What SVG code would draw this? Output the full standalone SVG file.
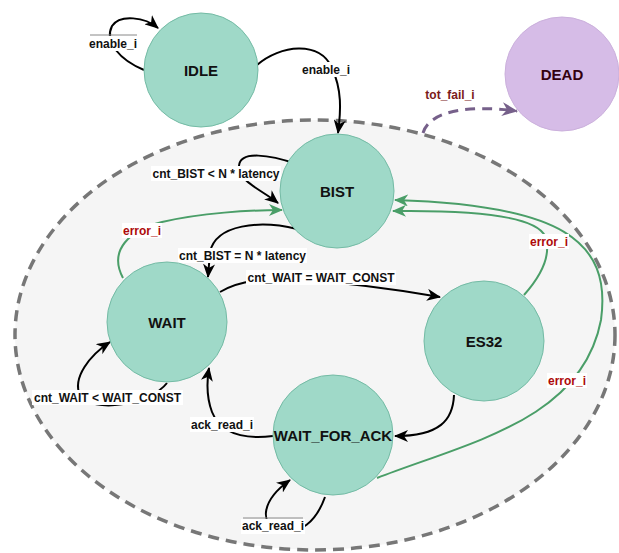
<svg xmlns="http://www.w3.org/2000/svg" width="619" height="553" viewBox="0 0 619 553">
<style>
.node{fill:#9fd9c8;stroke:#74bba5;stroke-width:1}
.dead{fill:#d6bce7;stroke:#cbb0dc;stroke-width:1}
.nl{font-family:"Liberation Sans",Arial,sans-serif;font-weight:bold;font-size:15px;text-anchor:middle;fill:#111}
.el{font-family:"Liberation Sans",Arial,sans-serif;font-weight:bold;font-size:12px;text-anchor:middle;fill:#111}
.er{fill:#ad0a0a}
.tf{fill:#7a1a1a}
.bg{fill:#ffffff}
.k{fill:none;stroke:#000;stroke-width:2}
.g{fill:none;stroke:#4a9e68;stroke-width:2}
.ov{stroke:#888;stroke-width:1}
</style>
<defs>
<marker id="ab" markerUnits="userSpaceOnUse" markerWidth="14" markerHeight="12" viewBox="0 0 14 12" refX="13" refY="6" orient="auto">
<path d="M0,0 L14,6 L0,12 L4,6 z" fill="#000"/>
</marker>
<marker id="ag" markerUnits="userSpaceOnUse" markerWidth="14" markerHeight="12" viewBox="0 0 14 12" refX="13" refY="6" orient="auto">
<path d="M0,0 L14,6 L0,12 L4,6 z" fill="#4a9e68"/>
</marker>
<marker id="ap" markerUnits="userSpaceOnUse" markerWidth="16" markerHeight="14" viewBox="0 0 16 14" refX="15" refY="7" orient="auto">
<path d="M0,0 L16,7 L0,14 L5,7 z" fill="#76608a"/>
</marker>
</defs>
<rect width="619" height="553" fill="#ffffff"/>
<g id="region">
<ellipse cx="315" cy="335" rx="300" ry="215" fill="#f5f5f5" stroke="#777777" stroke-width="3.5" stroke-dasharray="11 7"/>
</g>
<g id="connectors">
<path class="k" d="M144 70 C120 60 104 42 112 26 C120 14 145 17 158 28" marker-end="url(#ab)"/>
<path class="k" d="M257 65 C280 45 320 40 332 68 C342 90 341 110 338 133" marker-end="url(#ab)"/>
<path class="k" d="M297 164 C270 155 240 150 239 166 C239 182 262 190 278 203" marker-end="url(#ab)"/>
<path class="k" d="M297 229 C260 220 216 224 210 252 L208 277" marker-end="url(#ab)"/>
<path class="k" d="M220 292 C240 280 265 278 300 280 C350 283 400 290 440 297" marker-end="url(#ab)"/>
<path class="k" d="M167 383 C150 405 92 414 80 395 C72 378 90 355 110 342" marker-end="url(#ab)"/>
<path class="k" d="M273 436 C240 440 220 432 212 412 C206 396 207 380 209 368" marker-end="url(#ab)"/>
<path class="k" d="M325 497 C316 522 300 535 280 530 C258 524 262 500 290 480" marker-end="url(#ab)"/>
<path class="k" d="M454 395 C453 420 440 436 395 436" marker-end="url(#ab)"/>
<path class="g" d="M123 278 C108 250 130 230 162 222 C200 213 250 210 282 210" marker-end="url(#ag)"/>
<path class="g" d="M524 295 C540 277 552 255 545 236 C535 215 470 210 393 211" marker-end="url(#ag)"/>
<path class="g" d="M377 478 C470 442 582 420 601 320 C612 240 560 205 395 200" marker-end="url(#ag)"/>
<path d="M423 133 C430 110 470 105 517 111" fill="none" stroke="#76608a" stroke-width="3" stroke-dasharray="10 7" marker-end="url(#ap)"/>
</g>
<g id="edge-labels">
<rect class="bg" x="88" y="36" width="50" height="15"/>
<line class="ov" x1="90" y1="35" x2="137" y2="35"/>
<text class="el" x="113" y="48">enable_i</text>
<rect class="bg" x="300" y="62" width="52" height="15"/>
<text class="el" x="326" y="74">enable_i</text>
<rect class="bg" x="151" y="166" width="130" height="15"/>
<text class="el" x="216" y="178">cnt_BIST &lt; N * latency</text>
<rect class="bg" x="178" y="248" width="129" height="15"/>
<text class="el" x="242.5" y="260">cnt_BIST = N * latency</text>
<rect class="bg" x="246" y="270" width="150" height="15"/>
<text class="el" x="321" y="282">cnt_WAIT = WAIT_CONST</text>
<rect class="bg" x="32" y="390" width="151" height="15"/>
<text class="el" x="107.5" y="402">cnt_WAIT &lt; WAIT_CONST</text>
<rect class="bg" x="190" y="417" width="64" height="15"/>
<text class="el" x="222" y="429">ack_read_i</text>
<rect class="bg" x="241" y="519" width="64" height="15"/>
<line class="ov" x1="243" y1="518" x2="303" y2="518"/>
<text class="el" x="273" y="530">ack_read_i</text>
<rect class="bg" x="122" y="223" width="40" height="15"/>
<text class="el er" x="142" y="235">error_i</text>
<rect class="bg" x="529" y="234" width="40" height="15"/>
<text class="el er" x="549" y="246">error_i</text>
<rect class="bg" x="547" y="373" width="40" height="15"/>
<text class="el er" x="567" y="385">error_i</text>
<text class="el tf" x="450" y="99">tot_fail_i</text>
</g>
<g id="IDLE"><circle class="node" cx="201" cy="70" r="57"/><text class="nl" x="201" y="76">IDLE</text></g>
<g id="DEAD"><circle class="dead" cx="562" cy="74" r="57"/><text class="nl" x="562" y="80" style="fill:#33000f">DEAD</text></g>
<g id="BIST"><circle class="node" cx="337" cy="191" r="57"/><text class="nl" x="337" y="197">BIST</text></g>
<g id="WAIT"><circle class="node" cx="167" cy="322" r="60"/><text class="nl" x="167" y="328">WAIT</text></g>
<g id="ES32"><circle class="node" cx="484" cy="341" r="60"/><text class="nl" x="484" y="347">ES32</text></g>
<g id="WAIT_FOR_ACK"><circle class="node" cx="333" cy="435" r="60"/><text class="nl" x="333" y="441">WAIT_FOR_ACK</text></g>
</svg>
